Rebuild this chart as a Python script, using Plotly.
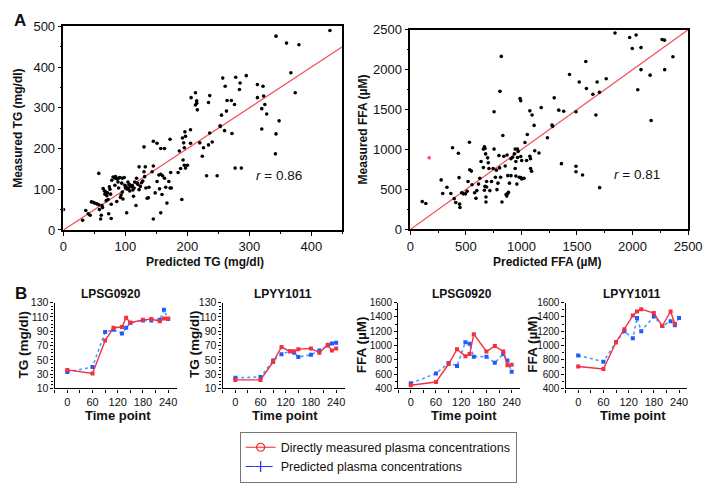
import plotly.graph_objects as go

# ---------------- data ----------------
tg_pred = [0, 31, 36, 40, 43, 45, 48, 50, 54, 57, 58, 57, 60, 61, 62, 64, 66, 67, 68, 70,
           71, 72, 73, 74, 75, 76, 77, 77, 78, 80, 82, 84, 85, 87, 88, 89, 90, 91, 92, 93,
           94, 95, 96, 98, 99, 100, 101, 102, 103, 105, 106, 107, 108, 110, 111, 113, 114, 115, 117, 119,
           120, 122, 122, 124, 126, 128, 130, 130, 131, 132, 133, 135, 137, 138,
           86, 95, 104, 112, 83, 69, 63, 118,
           430, 343, 360, 380, 367, 374, 348, 343, 342, 320, 257, 261, 278, 285, 284, 295, 313, 322,
           313, 323, 325, 320, 328, 264, 271, 276, 263, 255, 253, 260, 272, 236, 234, 206, 213, 215,
           215, 213, 216, 236, 253, 205, 196, 197, 192, 205, 194, 172, 145, 151, 157, 163, 220, 226,
           234, 240, 224, 187, 195, 193, 197, 189, 195, 200, 231, 248, 277, 287, 185, 173, 145, 143,
           145, 148, 151, 154, 157, 160, 163, 159, 155, 165, 167, 170, 172, 174, 157, 191]
tg_meas = [50, 24, 48, 40, 36, 69, 68, 66, 64, 62, 50, 139, 27, 36, 60, 102, 96, 88, 94, 84,
           91, 75, 40, 106, 100, 88, 28, 63, 122, 130, 128, 131, 127, 125, 118, 103, 128, 129, 80, 86,
           115, 127, 76, 129, 110, 104, 107, 42, 100, 103, 112, 96, 110, 106, 109, 83, 103, 118, 60, 115,
           112, 99, 155, 107, 116, 120, 143, 204, 131, 155, 103, 78, 79, 105,
           70, 93, 118, 98, 110, 72, 55, 127,
           490, 476, 459, 455, 386, 337, 268, 236, 187, 248, 373, 353, 375, 361, 345, 379, 357, 353,
           325, 329, 308, 298, 285, 318, 318, 308, 292, 282, 256, 244, 237, 330, 313, 325, 337, 317,
           311, 307, 295, 238, 254, 246, 241, 230, 226, 213, 214, 223, 218, 213, 200, 200, 214, 202,
           209, 216, 181, 194, 202, 172, 152, 151, 159, 159, 133, 133, 152, 152, 141, 141, 157, 143,
           27, 91, 119, 135, 137, 133, 127, 87, 101, 105, 66, 119, 103, 103, 42, 75]

ffa_pred = [1842, 1974, 2032, 1997, 2076, 2266, 2287, 2363, 2289, 2076, 2158, 2047, 2167,
            819, 807, 988, 994, 1433, 1520, 1585, 1579, 1681, 1763, 1643, 1702, 1295, 1178, 1076, 1096,
            754, 1336, 1380, 1491, 1670, 1275, 1281, 1114, 1053, 1234, 833, 1032, 532, 380, 433, 944,
            871, 1120, 1158, 1076, 1082, 965, 994, 1003, 1047, 950, 906, 1082, 1091, 994, 1003, 1023,
            980, 906, 877, 892, 1360, 1491, 1491, 1550, 1704, 108, 140, 278, 292, 330, 365, 395, 409,
            439, 444, 447, 462, 477, 497, 512, 520, 535, 550, 556, 579, 591, 599, 614, 626, 637, 658,
            667, 658, 672, 678, 687, 687, 696, 702, 708, 672, 667, 681, 681, 716, 731, 746, 754, 766,
            775, 780, 789, 798, 804, 813, 825, 842, 854, 862, 868, 877, 883, 921, 936, 944, 950, 959,
            971, 965]
ffa_meas = [2459, 2403, 2435, 2265, 2277, 2378, 2370, 2163, 2001, 2001, 1932, 1749, 1364,
            2167, 1729, 1640, 1611, 1940, 1847, 1765, 2102, 1847, 1887, 1692, 1717, 1648, 1526, 1485, 1433,
            1473, 1494, 1481, 1473, 1433, 1307, 1291, 1303, 1189, 1148, 1177, 1088, 1092, 1023, 954, 1006,
            933, 986, 958, 917, 885, 901, 913, 864, 864, 852, 885, 763, 730, 649, 633, 641,
            653, 674, 674, 580, 824, 791, 722, 682, 524, 349, 325, 621, 450, 528, 450, 386, 337,
            649, 317, 276, 459, 446, 446, 479, 601, 747, 731, 560, 459, 390, 487, 568, 641, 852, 775,
            1035, 1006, 1015, 946, 601, 532, 897, 836, 763, 540, 491, 406, 345, 487, 601, 763, 1006, 653,
            743, 499, 580, 925, 771, 653, 345, 917, 795, 438, 418, 450, 466, 905, 946, 763, 670, 568,
            978, 1006]
ffa_flag_pred = [170]
ffa_flag_meas = [897]

tg_identity = [0, 450]
ffa_identity = [0, 2500]

time_points = [0, 60, 90, 110, 130, 140, 150, 180, 200, 220, 230, 240]
time_points_short = [0, 60, 90, 110, 130, 140, 150, 180, 200, 220, 230]

tg_lpsg_measured = [36, 31, 77, 95, 96, 109, 102, 106, 107, 104, 108, 108]
tg_lpsg_predicted = [33, 40, 89, 92, 87, 95, 102, 105, 105, 106, 120, 107]
tg_lpyy_measured = [22, 22, 47, 68, 62, 62, 65, 66, 60, 71, 63, 66]
tg_lpyy_predicted = [25, 26, 49, 58, 62, 60, 54, 57, 63, 70, 73, 74]
ffa_lpsg_measured = [445, 490, 742, 948, 849, 881, 1160, 917, 993, 917, 724, 733]
ffa_lpsg_predicted = [472, 611, 755, 715, 1047, 1025, 845, 845, 760, 881, 791, 634]
ffa_lpyy_measured = [707, 672, 1047, 1230, 1419, 1478, 1509, 1455, 1274, 1478, 1305]
ffa_lpyy_predicted = [862, 775, 1047, 1202, 1101, 1387, 1202, 1407, 1274, 1342, 1283, 1387]

panel_titles = ["LPSG0920", "LPYY1011", "LPSG0920", "LPYY1011"]
legend_labels = ["Directly measured plasma concentrations", "Predicted plasma concentrations"]

# ---------------- styling ----------------
W, H = 719, 491
FONT = "Liberation Sans, Arial, Helvetica, sans-serif"
RED = "#f2303f"
RED_LINE = "#f2505c"
BLUE_M = "#1f5bff"
BLUE_L = "#4a9bff"


def fx(p):
    return p / W


def fy(p):
    return 1 - p / H


fig = go.Figure()

# top scatter panels
fig.add_trace(go.Scatter(x=tg_identity, y=tg_identity, mode="lines",
                         line=dict(color=RED_LINE, width=1.3), showlegend=False,
                         xaxis="x", yaxis="y"))
fig.add_trace(go.Scatter(x=tg_pred, y=tg_meas, mode="markers",
                         marker=dict(color="black", size=3.6), showlegend=False,
                         xaxis="x", yaxis="y"))
fig.add_trace(go.Scatter(x=ffa_identity, y=ffa_identity, mode="lines",
                         line=dict(color=RED_LINE, width=1.3), showlegend=False,
                         xaxis="x2", yaxis="y2"))
fig.add_trace(go.Scatter(x=ffa_pred, y=ffa_meas, mode="markers",
                         marker=dict(color="black", size=3.6), showlegend=False,
                         xaxis="x2", yaxis="y2"))
fig.add_trace(go.Scatter(x=ffa_flag_pred, y=ffa_flag_meas, mode="markers",
                         marker=dict(color="#ff3fa8", size=3.6), showlegend=False,
                         xaxis="x2", yaxis="y2"))

# bottom time-course panels
series = [
    (time_points, tg_lpsg_measured, time_points, tg_lpsg_predicted),
    (time_points, tg_lpyy_measured, time_points, tg_lpyy_predicted),
    (time_points, ffa_lpsg_measured, time_points, ffa_lpsg_predicted),
    (time_points_short, ffa_lpyy_measured, time_points, ffa_lpyy_predicted),
]
for i, (tm, m, tp, p) in enumerate(series):
    xa, ya = f"x{i+3}", f"y{i+3}"
    fig.add_trace(go.Scatter(x=tp, y=p, mode="lines+markers",
                             line=dict(color=BLUE_L, width=1.6, dash="dot"),
                             marker=dict(color=BLUE_M, size=4, symbol="square"),
                             showlegend=False, xaxis=xa, yaxis=ya))
    fig.add_trace(go.Scatter(x=tm, y=m, mode="lines+markers",
                             line=dict(color=RED, width=1.4),
                             marker=dict(color=RED, size=4, symbol="square"),
                             showlegend=False, xaxis=xa, yaxis=ya))

# legend-only entries
fig.add_trace(go.Scatter(x=[None], y=[None], mode="lines+markers", name=legend_labels[0],
                         line=dict(color="#ff2020", width=1.2),
                         marker=dict(symbol="circle-open", size=8, color="#ff2020", line=dict(width=1.2)),
                         xaxis="x3", yaxis="y3"))
fig.add_trace(go.Scatter(x=[None], y=[None], mode="lines+markers", name=legend_labels[1],
                         line=dict(color="#2030ff", width=1.2, dash="dash"),
                         marker=dict(symbol="cross-thin-open", size=8, color="#2030ff",
                                     line=dict(width=1.2, color="#2030ff")),
                         xaxis="x3", yaxis="y3"))

common = dict(showgrid=False, zeroline=False, showline=True, linecolor="black",
              ticks="outside", tickcolor="black", ticklen=4, tickwidth=1,
              tickfont=dict(family=FONT, size=13, color="#111"))

layout = dict(
    width=W, height=H, margin=dict(l=0, r=0, t=0, b=0),
    paper_bgcolor="white", plot_bgcolor="white",
    font=dict(family=FONT, color="#111"),
    showlegend=True,
    legend=dict(x=fx(241.7), y=fy(438), xanchor="left", yanchor="top",
                bordercolor="#777", borderwidth=1, bgcolor="white",
                font=dict(family=FONT, size=12.5, color="#111"),
                tracegroupgap=0, itemwidth=30),
    xaxis=dict(common, domain=[fx(61), fx(347)], range=[0, 450], anchor="y",
               tickvals=[0, 100, 200, 300, 400], mirror=True, linewidth=1.5,
               minor=dict(dtick=50, ticks="outside", ticklen=2, tickcolor="black")),
    yaxis=dict(common, domain=[fy(230), fy(20)], range=[0, 500], anchor="x",
               tickvals=[0, 100, 200, 300, 400, 500], mirror=True, linewidth=1.5,
               minor=dict(dtick=50, ticks="outside", ticklen=2, tickcolor="black")),
    xaxis2=dict(common, domain=[fx(416.7), fx(701.7)], range=[0, 2500], anchor="y2",
                tickvals=[0, 500, 1000, 1500, 2000, 2500], mirror=True, linewidth=1.5,
                minor=dict(dtick=250, ticks="outside", ticklen=2, tickcolor="black")),
    yaxis2=dict(common, domain=[fy(229.5), fy(23.5)], range=[0, 2500], anchor="x2",
                tickvals=[0, 500, 1000, 1500, 2000, 2500], mirror=True, linewidth=1.5,
                minor=dict(dtick=250, ticks="outside", ticklen=2, tickcolor="black")),
)

bottom_left = [52, 224.3, 404.3, 576]
bottom_w = 125
for i, left in enumerate(bottom_left):
    n = i + 3
    is_tg = i < 2
    layout[f"xaxis{n}"] = dict(common, domain=[fx(left), fx(left + bottom_w)], range=[-30, 260],
                               anchor=f"y{n}", tickvals=[0, 60, 120, 180, 240], linewidth=1.4,
                               ticklen=3,
                               tickfont=dict(family=FONT, size=11, color="#111"),
                               minor=dict(tickvals=[-30, 30, 90, 150, 210], ticks="outside",
                                          ticklen=3, tickcolor="black"))
    if is_tg:
        layout[f"yaxis{n}"] = dict(common, domain=[fy(393.5), fy(305)], range=[10, 130],
                                   anchor=f"x{n}", tickvals=[10, 30, 50, 70, 90, 110, 130], linewidth=1.4,
                                   ticklen=3,
                                   tickfont=dict(family=FONT, size=10.5, color="#111"),
                                   minor=dict(dtick=5, tick0=10, ticks="outside", ticklen=2, tickcolor="black"))
    else:
        layout[f"yaxis{n}"] = dict(common, domain=[fy(393.5), fy(305)], range=[400, 1600],
                                   anchor=f"x{n}", tickvals=[400, 600, 800, 1000, 1200, 1400, 1600],
                                   linewidth=1.4, ticklen=3,
                                   tickfont=dict(family=FONT, size=10, color="#111"),
                                   minor=dict(dtick=100, tick0=400, ticks="outside", ticklen=2, tickcolor="black"))

fig.update_layout(**layout)


def ann(text, x, y, size, bold=True, angle=0, xanchor="center"):
    t = f"<b>{text}</b>" if bold else text
    fig.add_annotation(text=t, x=fx(x), y=fy(y), xref="paper", yref="paper",
                       showarrow=False, textangle=angle, xanchor=xanchor, yanchor="middle",
                       font=dict(family=FONT, size=size, color="#111"))


ann("A", 16, 14, 17)
ann("B", 17, 296, 17)
ann("Measured TG (mg/dl)", 15, 125, 12, angle=-90)
ann("Predicted TG (mg/dl)", 205.8, 263, 12)
ann("Measured FFA (µM)", 368.5, 126, 12, angle=-90)
ann("Predicted FFA (µM)", 556.7, 263, 12)
ann("<i>r</i> = 0.86", 282.5, 174, 13.5, bold=False)
ann("<i>r</i> = 0.81", 649.5, 173, 13.5, bold=False)

title_x = [109.7, 285.8, 470, 644]
time_x = [116.7, 288.7, 472, 644.7]
ytitle_x = [19.5, 195.5, 367, 542]
ytitle_text = ["TG (mg/dl)", "TG (mg/dl)", "FFA (µM)", "FFA (µM)"]
for i in range(4):
    ann(panel_titles[i], title_x[i], 296, 12)
    ann("Time point", time_x[i], 421.7, 13)
    ann(ytitle_text[i], ytitle_x[i], 348, 13.5, angle=-90)

fig.write_html("out.html", config={"displayModeBar": False},
               post_script="document.body.style.margin='0';document.body.style.overflow='hidden';")
